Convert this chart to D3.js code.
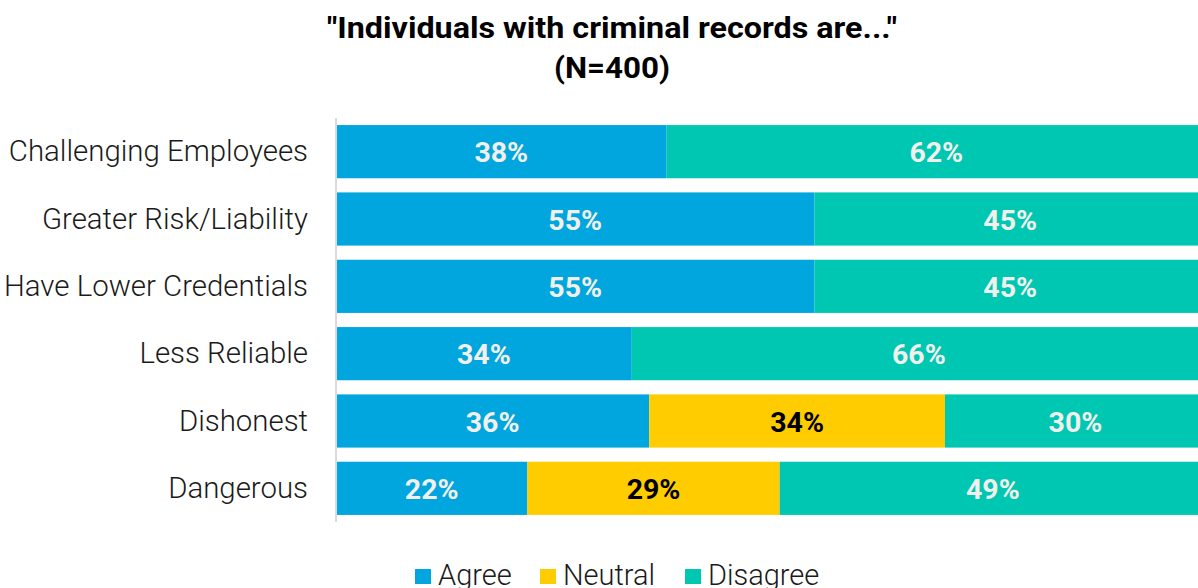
<!DOCTYPE html>
<html><head><meta charset="utf-8">
<script src="https://cdn.jsdelivr.net/npm/d3@7"></script>
<style>body{margin:0;background:#fff;} svg{display:block;font-family:Roboto, sans-serif;}</style>
</head><body>
<svg id="c" width="1198" height="588"></svg>
<script>
const categories = ["Challenging Employees","Greater Risk/Liability","Have Lower Credentials","Less Reliable","Dishonest","Dangerous"];
const agree =    [38, 55, 55, 34, 36, 22];
const neutral =  [0, 0, 0, 0, 34, 29];
const disagree = [62, 45, 45, 66, 30, 49];
const seriesNames = ["Agree","Neutral","Disagree"];
const colors = ["#00a6dd","#ffcc00","#00c7b2"];
const titleLines = ['"Individuals with criminal records are..."', '(N=400)'];

const svg = d3.select("#c");
const rows = categories.map((c,i)=>({cat:c, Agree:agree[i], Neutral:neutral[i], Disagree:disagree[i]}));
const stack = d3.stack().keys(seriesNames)(rows);

const x = d3.scaleLinear().domain([0,100]).range([336,1206]);
const y = d3.scaleBand().domain(categories).range([118,522]).paddingInner(0.21).paddingOuter(0.105);

// title
const tg = svg.append("g");
titleLines.forEach((t,i)=>{
  tg.append("text").attr("x",612).attr("y",38+i*40).attr("text-anchor","middle")
    .attr("font-size",30).attr("font-weight","bold").attr("fill","#000")
    .attr("textLength", i===0?570:116).attr("lengthAdjust","spacingAndGlyphs").text(t);
});

// bars
stack.forEach((s,si)=>{
  const g = svg.append("g");
  s.forEach((d,i)=>{
    const v = d[1]-d[0];
    if(v<=0) return;
    g.append("rect").attr("x",x(d[0])).attr("y",y(categories[i]))
      .attr("width",x(d[1])-x(d[0])).attr("height",y.bandwidth()).attr("fill",colors[si]);
    g.append("text").attr("x",(x(d[0])+x(d[1]))/2).attr("y",y(categories[i])+y.bandwidth()/2)
      .attr("dy","0.37em").attr("text-anchor","middle").attr("font-size",28.5).attr("font-weight","bold")
      .attr("fill", si===1?"#000":"#f2f0ec").text(v+"%");
  });
});

// y axis
const ax = d3.axisLeft(y).tickSize(0).tickPadding(28);
const axg = svg.append("g").attr("transform","translate(336,0)").call(ax);
axg.select(".domain").attr("stroke","#d9d9d9").attr("stroke-width",2).attr("d","M0,118V522");
axg.selectAll("text").attr("font-size",29.4).attr("font-weight",300).attr("fill","#1a1a1a").attr("font-family","Roboto, sans-serif").attr("dy","0.33em");

// legend
const lx = [415,540,685];
const lg = svg.append("g");
seriesNames.forEach((n,i)=>{
  lg.append("rect").attr("x",lx[i]).attr("y",569).attr("width",16).attr("height",15).attr("fill",colors[i]);
  lg.append("text").attr("x",lx[i]+23).attr("y",585).attr("font-size",29).attr("font-weight",300).attr("fill","#1a1a1a").text(n);
});
</script>
</body></html>
